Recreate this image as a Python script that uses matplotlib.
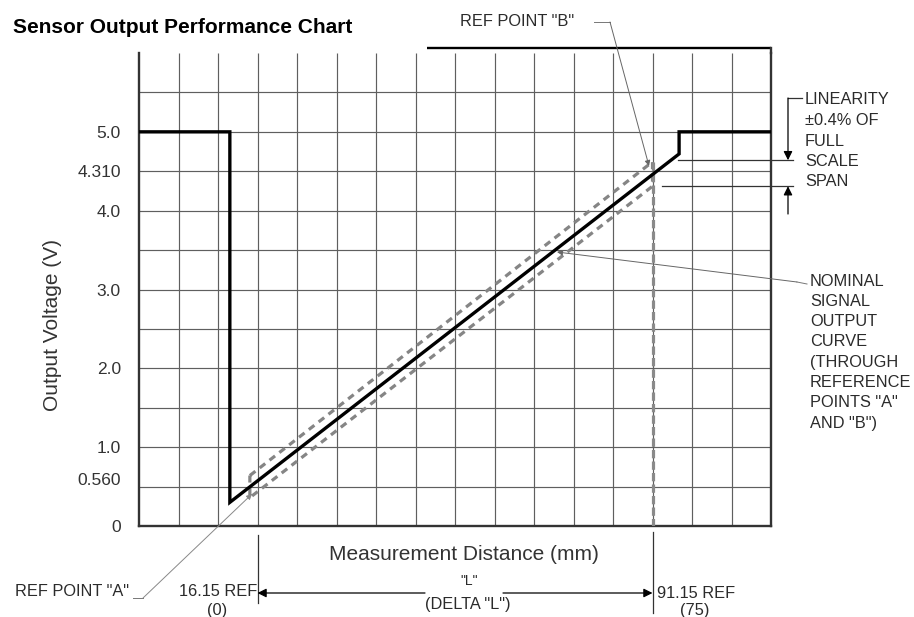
import numpy as np
import matplotlib
matplotlib.use("Agg")
import matplotlib.pyplot as plt

# ---------------- data ----------------
# x in mm, y in volts
x_min, x_max = -6.35, 113.65
y_min, y_max = 0.0, 6.0
grid_step_x = 7.5
grid_step_y = 0.5

curve_x = [-6.35, 10.9, 10.9, 96.2, 96.2, 113.65]
curve_y = [5.0, 5.0, 0.30, 4.72, 5.0, 5.0]

band_x = [14.7, 91.15]
band_upper_y = [0.64, 4.62]
band_lower_y = [0.36, 4.31]

ref_a_x = 16.15
ref_b_x = 91.15

ytick_pos = [0, 0.6, 1.0, 2.0, 3.0, 4.0, 4.5, 5.0]
ytick_labels = ["0", "0.560", "1.0", "2.0", "3.0", "4.0", "4.310", "5.0"]

lin_hi, lin_lo = 4.64, 4.31

title = "Sensor Output Performance Chart"
linearity_lines = ["LINEARITY", "\u00b10.4% OF", "FULL", "SCALE", "SPAN"]
nominal_lines = ["NOMINAL", "SIGNAL", "OUTPUT", "CURVE", "(THROUGH",
                 "REFERENCE", "POINTS \"A\"", "AND \"B\")"]

# ---------------- figure ----------------
W, H = 914, 617
plt.rcParams['font.family'] = ['Liberation Sans', 'DejaVu Sans']
fig = plt.figure(figsize=(W / 100, H / 100), dpi=100)

def fx(px):
    return px / W

def fy(py):
    return 1 - py / H

ax_l, ax_r, ax_t, ax_b = 139, 771, 53, 526
ax = fig.add_axes([fx(ax_l), fy(ax_b), (ax_r - ax_l) / W, (ax_b - ax_t) / H])
ax.set_xlim(x_min, x_max)
ax.set_ylim(y_min, y_max)

# conversion px -> data (for annotation anchors outside the plot)
def dx(px):
    return x_min + (px - ax_l) / (ax_r - ax_l) * (x_max - x_min)

def dy(py):
    return y_min + (ax_b - py) / (ax_b - ax_t) * (y_max - y_min)

# grid (drawn explicitly so every line shows)
gx = np.arange(x_min, x_max + 0.01, grid_step_x)
gy = np.arange(y_min, y_max + 0.01, grid_step_y)
ax.vlines(gx[1:-1], y_min, y_max, colors='#5f5f5f', lw=0.85, zorder=1)
ax.hlines(gy[1:-1], x_min, x_max, colors='#5f5f5f', lw=0.85, zorder=1)
ax.set_xticks([])
ax.set_yticks(ytick_pos)
ax.set_yticklabels(ytick_labels)
ax.tick_params(which='both', length=0)
ax.tick_params(axis='y', which='major', pad=13, labelsize=12.5, labelcolor='#333333')

for s in ['left', 'bottom', 'right']:
    ax.spines[s].set_color('#333333')
    ax.spines[s].set_linewidth(1.7)
ax.spines['top'].set_visible(False)

# top frame line (partial) and right spine extension
ax.plot([dx(427), x_max], [dy(48), dy(48)], color='black', lw=1.7, clip_on=False,
        solid_capstyle='butt')
ax.plot([x_max, x_max], [y_max, dy(48)], color='#333333', lw=1.7, clip_on=False)

# tolerance band (dashed)
band_px = [band_x[0], band_x[1], band_x[1], band_x[0], band_x[0]]
band_py = [band_upper_y[0], band_upper_y[1], band_lower_y[1], band_lower_y[0], band_upper_y[0]]
ln, = ax.plot(band_px, band_py, color='#858585', lw=2.3, zorder=3)
ln.set_dashes((2.2, 1.7))

# vertical dashed at REF B
vl, = ax.plot([ref_b_x, ref_b_x], [band_upper_y[1], 0], color='#8a8a8a', lw=2.3, zorder=3)
vl.set_dashes((2.6, 1.0))

# main curve
ax.plot(curve_x, curve_y, color='black', lw=2.4, zorder=4, solid_joinstyle='miter',
        solid_capstyle='butt')

# ---------------- annotations ----------------
txt_c = '#2b2b2b'
fs = 11.8

def fig_text(px, py, s, ha='left', va='center', **kw):
    fig.text(fx(px), fy(py), s, ha=ha, va=va, color=kw.pop('color', txt_c),
             fontsize=kw.pop('fontsize', fs), **kw)

# title
fig.text(fx(13), fy(33), title, ha='left', va='baseline', fontsize=15,
         fontweight='bold', color='black')

# axis labels
fig_text(464, 555, "Measurement Distance (mm)", ha='center', fontsize=15, color='#333333')
fig_text(53, 325, "Output Voltage (V)", ha='center', fontsize=15, color='#333333',
         rotation=90)

# REF POINT B
fig_text(460, 22, 'REF POINT "B"')
ax.plot([dx(594), dx(610)], [dy(22), dy(22)], color='#777777', lw=0.7, clip_on=False)
ax.annotate('', xy=(dx(649), dy(166)), xytext=(dx(610), dy(22)),
            arrowprops=dict(arrowstyle='-|>', color='#666666', lw=0.7,
                            mutation_scale=8, shrinkA=0, shrinkB=0),
            annotation_clip=False)

# LINEARITY
for i, s in enumerate(linearity_lines):
    fig_text(805, 100 + 20.5 * i, s)
ax.plot([dx(678), dx(793)], [lin_hi, lin_hi], color='#333333', lw=0.9, clip_on=False)
ax.plot([dx(662), dx(793)], [lin_lo, lin_lo], color='#333333', lw=0.9, clip_on=False)
ax.plot([dx(802), dx(788)], [dy(98), dy(98)], color='#333333', lw=0.9, clip_on=False)
ax.annotate('', xy=(dx(788), lin_hi), xytext=(dx(788), dy(98)),
            arrowprops=dict(arrowstyle='-|>', color='black', lw=0.9,
                            mutation_scale=13, shrinkA=0, shrinkB=0),
            annotation_clip=False)
ax.annotate('', xy=(dx(788), lin_lo), xytext=(dx(788), dy(214)),
            arrowprops=dict(arrowstyle='-|>', color='black', lw=0.9,
                            mutation_scale=13, shrinkA=0, shrinkB=0),
            annotation_clip=False)

# NOMINAL
for i, s in enumerate(nominal_lines):
    fig_text(810, 281 + 20.3 * i, s)
ax.plot([dx(797), dx(807)], [dy(282), dy(284)], color='#777777', lw=0.7, clip_on=False)
ax.annotate('', xy=(dx(557), dy(252)), xytext=(dx(797), dy(282)),
            arrowprops=dict(arrowstyle='-|>', color='#666666', lw=0.7,
                            mutation_scale=8, shrinkA=0, shrinkB=0),
            annotation_clip=False)

# REF POINT A
fig_text(15, 592, 'REF POINT "A"')
ax.plot([dx(133), dx(143)], [dy(598), dy(598)], color='#777777', lw=0.7, clip_on=False)
ax.annotate('', xy=(dx(252), dy(494)), xytext=(dx(143), dy(598)),
            arrowprops=dict(arrowstyle='-|>', color='#888888', lw=0.7,
                            mutation_scale=8, shrinkA=0, shrinkB=0),
            annotation_clip=False)

# dimension "L"
ax.plot([ref_a_x, ref_a_x], [dy(535), dy(603)], color='#333333', lw=0.9, clip_on=False)
ax.plot([ref_b_x, ref_b_x], [dy(532), dy(613)], color='#333333', lw=0.9, clip_on=False)
ax.annotate('', xy=(ref_a_x, dy(593)), xytext=(dx(425), dy(593)),
            arrowprops=dict(arrowstyle='-|>', color='black', lw=0.9,
                            mutation_scale=13, shrinkA=0, shrinkB=0),
            annotation_clip=False)
ax.annotate('', xy=(ref_b_x, dy(593)), xytext=(dx(503), dy(593)),
            arrowprops=dict(arrowstyle='-|>', color='black', lw=0.9,
                            mutation_scale=13, shrinkA=0, shrinkB=0),
            annotation_clip=False)
fig_text(469, 581, '"L"', ha='center', fontsize=10)
fig_text(468, 604, '(DELTA "L")', ha='center')
fig_text(257, 592, '16.15 REF', ha='right')
fig_text(217, 610, '(0)', ha='center')
fig_text(657, 593, '91.15 REF', ha='left')
fig_text(695, 611, '(75)', ha='center')

fig.savefig("out.png", dpi=100)
